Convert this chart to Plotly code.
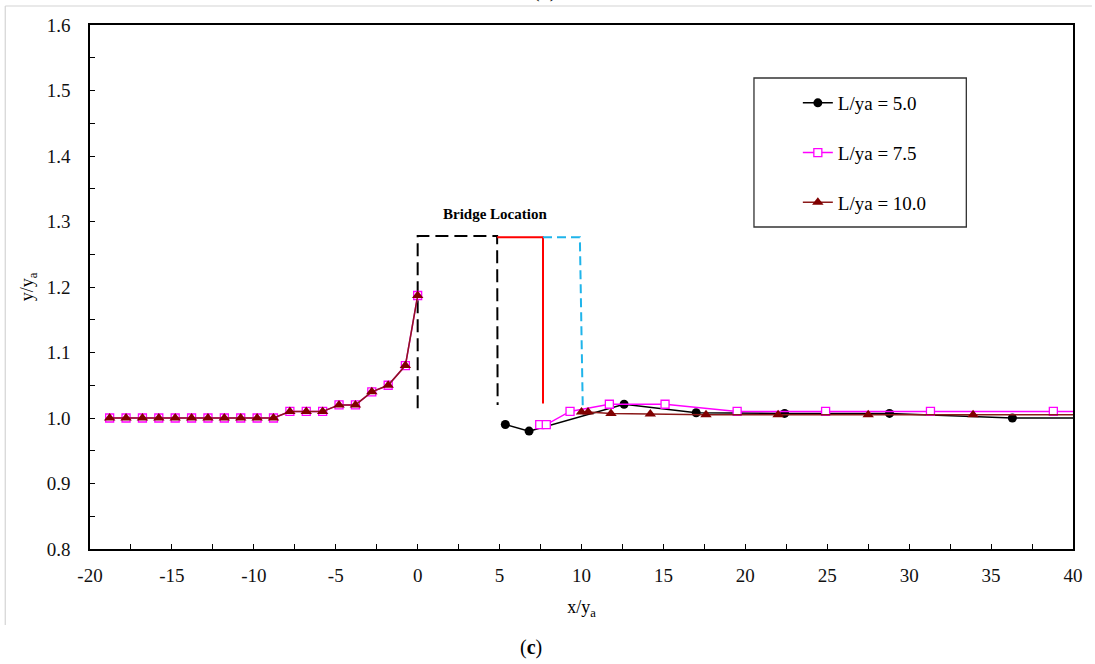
import plotly.graph_objects as go

# Water-surface profile y/ya along x/ya for three bridge lengths.
# Upstream of the bridge (x <= 0) the L/ya = 7.5 and 10.0 runs coincide.
up_x = [-18.8, -17.8, -16.8, -15.8, -14.8, -13.8, -12.8, -11.8, -10.8, -9.8,
        -8.8, -7.8, -6.8, -5.8, -4.8, -3.8, -2.8, -1.8, -0.75, 0.0]
up_y = [1.00, 1.00, 1.00, 1.00, 1.00, 1.00, 1.00, 1.00, 1.00, 1.00,
        1.00, 1.01, 1.01, 1.01, 1.02, 1.02, 1.04, 1.05, 1.08, 1.187]

# Downstream of the bridge
l50_x = [5.35, 6.8, 12.6, 17.0, 22.4, 28.8, 36.3, 43.7]
l50_y = [0.99, 0.98, 1.021, 1.008, 1.007, 1.007, 1.000, 1.000]

l75_x = [7.45, 7.85, 9.3, 11.7, 15.1, 19.5, 24.9, 31.3, 38.8, 45.0]
l75_y = [0.99, 0.99, 1.01, 1.021, 1.021, 1.01, 1.01, 1.01, 1.01, 1.01]

l100_x = [10.0, 10.4, 11.8, 14.2, 17.6, 22.0, 27.5, 33.9, 41.0]
l100_y = [1.009, 1.009, 1.007, 1.006, 1.005, 1.005, 1.005, 1.005, 1.005]

series_names = ["L/ya = 5.0", "L/ya = 7.5", "L/ya = 10.0"]

# Bridge outlines
br50_x = [0.0, 0.0, 4.85, 4.88]
br50_y = [1.015, 1.278, 1.278, 1.020]
br75_x = [4.85, 7.65, 7.65]
br75_y = [1.276, 1.276, 1.022]
br100_x = [7.65, 9.9, 10.08]
br100_y = [1.276, 1.276, 1.012]
bridge_label = "Bridge Location"
bridge_label_pos = (4.7, 1.311)

x_ticks = [-20, -15, -10, -5, 0, 5, 10, 15, 20, 25, 30, 35, 40]
x_tick_text = ["-20", "-15", "-10", "-5", "0", "5", "10", "15", "20",
               "25", "30", "35", "40"]

FONT = "Liberation Serif, Times New Roman, serif"

# Plot-area geometry in pixels, used to place paper-referenced items
L, R, T, B = 90, 1076, 25, 549
W, H = R - L, B - T


def px_x(p):
    return (p - L) / W


def px_y(p):
    return (B - p) / H


fig = go.Figure()

fig.add_trace(go.Scatter(x=br50_x, y=br50_y, mode="lines", showlegend=False,
                         hoverinfo="skip",
                         line=dict(color="black", width=2, dash="13px,6px")))
fig.add_trace(go.Scatter(x=br75_x, y=br75_y, mode="lines", showlegend=False,
                         hoverinfo="skip",
                         line=dict(color="#ff0000", width=2)))
fig.add_trace(go.Scatter(x=br100_x, y=br100_y, mode="lines", showlegend=False,
                         hoverinfo="skip",
                         line=dict(color="#1fb4ea", width=2, dash="9px,5px")))

styles = [
    dict(line=dict(color="black", width=1.5),
         marker=dict(symbol="circle", size=9, color="black")),
    dict(line=dict(color="#ff00ff", width=1.5),
         marker=dict(symbol="square", size=8, color="white",
                     line=dict(color="#ff00ff", width=1.3))),
    dict(line=dict(color="#8b1a1a", width=1.5),
         marker=dict(symbol="triangle-up", size=10, color="#800000")),
]
down = [(l50_x, l50_y), (l75_x, l75_y), (l100_x, l100_y)]

for i, (name, st, (dx, dy)) in enumerate(zip(series_names, styles, down)):
    grp = "g%d" % i
    if i > 0:
        fig.add_trace(go.Scatter(x=up_x, y=up_y, mode="lines+markers",
                                 name=name, legendgroup=grp, showlegend=False,
                                 **st))
    fig.add_trace(go.Scatter(x=dx, y=dy, mode="lines+markers", name=name,
                             legendgroup=grp, **st))

fig.add_annotation(x=bridge_label_pos[0], y=bridge_label_pos[1],
                   text="<b>" + bridge_label + "</b>", showarrow=False,
                   font=dict(family=FONT, size=15, color="black"))

# Panel captions
fig.add_annotation(x=px_x(532), y=px_y(647), xref="paper", yref="paper",
                   xanchor="center", yanchor="middle",
                   showarrow=False, text="(<b>c</b>)",
                   font=dict(family=FONT, size=20, color="black"))
fig.add_annotation(x=px_x(546), y=px_y(4), xref="paper", yref="paper",
                   yanchor="bottom", showarrow=False, text="(b)",
                   font=dict(family=FONT, size=20, color="black"))

axis_common = dict(
    showline=True, linecolor="black", linewidth=1.6, mirror=True,
    ticks="inside", ticklen=5, tickcolor="black", tickwidth=1.2,
    showgrid=False, zeroline=False,
    tickfont=dict(family=FONT, size=19, color="#111"),
)

fig.update_layout(
    width=1095, height=664,
    margin=dict(l=L, r=1095 - R, t=T, b=664 - B),
    paper_bgcolor="white", plot_bgcolor="white",
    font=dict(family=FONT, color="black"),
    xaxis=dict(range=[-20, 40], tickvals=x_ticks, ticktext=x_tick_text,
               minor=dict(dtick=2.5, ticks="inside", ticklen=5,
                          tickcolor="black", tickwidth=1.2),
               ticklabelstandoff=8,
               title=dict(text="x/y<sub>a</sub>", standoff=16,
                          font=dict(family=FONT, size=18)),
               **axis_common),
    yaxis=dict(range=[0.8, 1.6], dtick=0.1, tickformat=".1f",
               minor=dict(dtick=0.05, ticks="inside", ticklen=5,
                          tickcolor="black", tickwidth=1.2),
               ticklabelstandoff=14,
               title=dict(text="y/y<sub>a</sub>", standoff=8,
                          font=dict(family=FONT, size=18)),
               **axis_common),
    legend=dict(x=px_x(800), y=px_y(84), xanchor="left", yanchor="top",
                bgcolor="rgba(0,0,0,0)", borderwidth=0,
                tracegroupgap=22, itemwidth=30,
                font=dict(family=FONT, size=19, color="black")),
    showlegend=True,
)

# Legend frame and outer panel border
fig.add_shape(type="rect", xref="paper", yref="paper",
              x0=px_x(756), x1=px_x(969), y0=px_y(227), y1=px_y(78),
              line=dict(color="#333", width=1.3), fillcolor="rgba(0,0,0,0)")
fig.add_shape(type="line", xref="paper", yref="paper",
              x0=px_x(5), x1=px_x(1095), y0=px_y(6), y1=px_y(6),
              line=dict(color="#d4d4d4", width=1.2))
fig.add_shape(type="line", xref="paper", yref="paper",
              x0=px_x(5), x1=px_x(5), y0=px_y(6), y1=px_y(625),
              line=dict(color="#d4d4d4", width=1.2))

fig.write_html("out.html")
